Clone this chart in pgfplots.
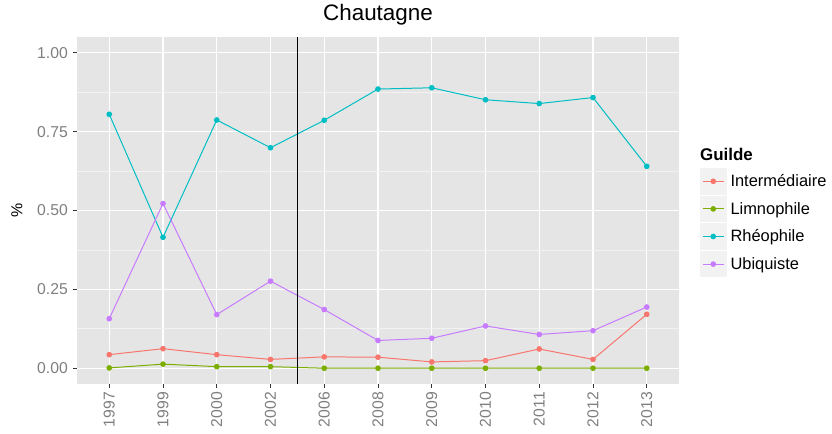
\documentclass[border=0pt]{standalone}
\usepackage{fontspec}
\setmainfont{Liberation Sans}
\usepackage{pgfplots}
\pgfplotsset{compat=1.18}
\definecolor{inter}{HTML}{F8766D}
\definecolor{limno}{HTML}{7CAE00}
\definecolor{rheo}{HTML}{00BFC4}
\definecolor{ubiq}{HTML}{C77CFF}
\definecolor{panel}{HTML}{E5E5E5}
\definecolor{minorg}{HTML}{F2F2F2}
\definecolor{ticklab}{HTML}{7F7F7F}
\definecolor{tickcol}{HTML}{333333}
\begin{document}
\begin{tikzpicture}
\path[use as bounding box] (0,0) rectangle (832bp,434bp);
\begin{axis}[
  at={(77bp,50bp)}, anchor=south west,
  scale only axis, width=602bp, height=347bp,
  xmin=-0.6, xmax=10.6, ymin=-0.05, ymax=1.05,
  xtick={0,...,10},
  xticklabels={1997,1999,2000,2002,2006,2008,2009,2010,2011,2012,2013},
  ytick={0,0.25,0.5,0.75,1},
  minor ytick={0.125,0.375,0.625,0.875},
  /pgf/number format/fixed,
  /pgf/number format/fixed zerofill,
  /pgf/number format/precision=2,
  /pgf/number format/assume math mode=true,
  axis line style={draw=none},
  tick align=outside, tick pos=left,
  major tick length=4bp, minor tick length=0pt,
  major tick style={tickcol, line width=0.9bp},
  xmajorgrids, ymajorgrids, yminorgrids,
  major grid style={white, line width=1.1bp},
  minor grid style={minorg, line width=0.6bp},
  axis background/.style={fill=panel},
  xticklabel style={rotate=90, anchor=east, inner sep=4bp, text=ticklab, font=\fontsize{15.8}{18}\selectfont},
  yticklabel style={inner sep=5bp, text=ticklab, font=\fontsize{15.8}{18}\selectfont},
  title={Chautagne},
  title style={font=\fontsize{22.5}{26}\selectfont, at={(0.5,1)}, anchor=base, yshift=10.5bp},
  ylabel={\%},
  ylabel style={at={(axis description cs:-0.0997,0.5)}, anchor=center, rotate=0, font=\fontsize{16}{19}\selectfont},
  legend cell align=left,
  legend style={at={(1.0349,0.6225)}, anchor=north west, draw=none, fill=none,
    inner sep=0pt, outer sep=0pt, row sep=1bp, column sep=4bp,
    font=\fontsize{16.5}{19}\selectfont, nodes={inner sep=0pt}},
  legend image code/.code={
    \fill[minorg] (0bp,-12.8bp) rectangle (25.5bp,12.8bp);
    \draw[#1,mark repeat=2,mark phase=2] plot coordinates {(2bp,0bp) (12.75bp,0bp) (23.5bp,0bp)};
  },
  every axis plot/.append style={line width=1bp, mark=*, mark size=2.3bp, mark options={solid}},
]
\addplot[inter, mark options={fill=inter, draw=inter}] coordinates {
 (0,0.043) (1,0.062) (2,0.043) (3,0.028) (4,0.036) (5,0.035) (6,0.020) (7,0.024) (8,0.061) (9,0.028) (10,0.171)};
\addlegendentry{Intermédiaire}
\addplot[limno, mark options={fill=limno, draw=limno}] coordinates {
 (0,0.001) (1,0.013) (2,0.005) (3,0.005) (4,0.0) (5,0.0) (6,0.0) (7,0.0) (8,0.0) (9,0.0) (10,0.0)};
\addlegendentry{Limnophile}
\addplot[rheo, mark options={fill=rheo, draw=rheo}] coordinates {
 (0,0.805) (1,0.415) (2,0.787) (3,0.699) (4,0.786) (5,0.885) (6,0.889) (7,0.851) (8,0.839) (9,0.858) (10,0.640)};
\addlegendentry{Rhéophile}
\addplot[ubiq, mark options={fill=ubiq, draw=ubiq}] coordinates {
 (0,0.157) (1,0.522) (2,0.170) (3,0.276) (4,0.186) (5,0.088) (6,0.095) (7,0.134) (8,0.107) (9,0.119) (10,0.194)};
\addlegendentry{Ubiquiste}
\addplot[black, line width=1bp, mark=none, forget plot] coordinates {(3.5,-0.05) (3.5,1.05)};
\end{axis}
\node[anchor=base west, inner sep=0pt, font=\bfseries\fontsize{17}{20}\selectfont] at (700bp,273.3bp) {Guilde};
\end{tikzpicture}
\end{document}
